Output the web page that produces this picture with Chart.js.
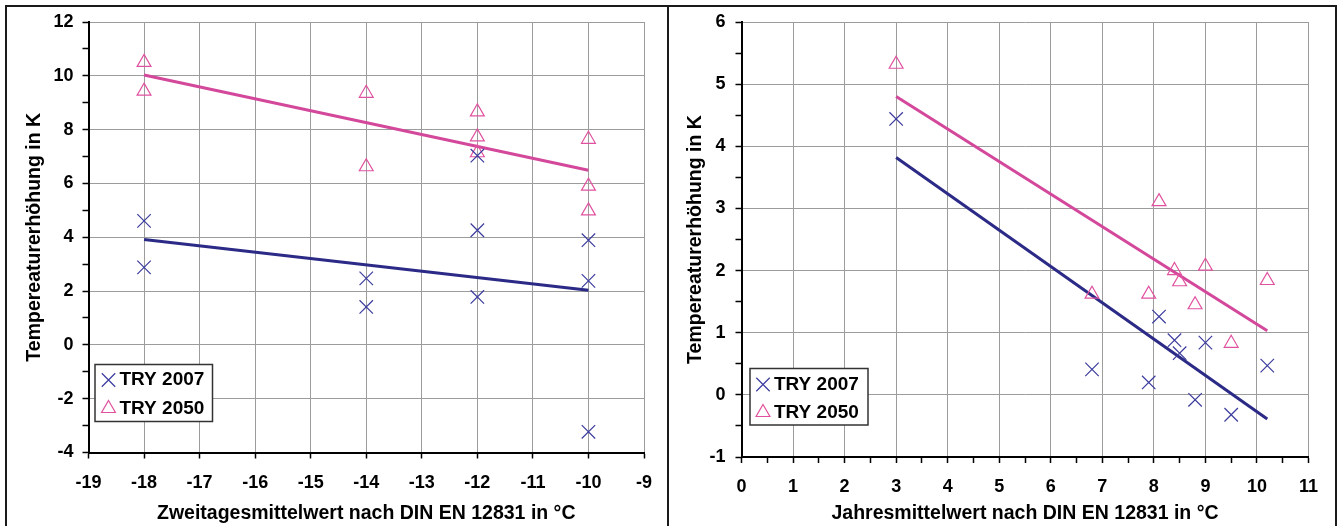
<!DOCTYPE html>
<html>
<head>
<meta charset="utf-8">
<script src="https://cdn.jsdelivr.net/npm/chart.js@4.4.0/dist/chart.umd.min.js"></script>
<style>
  html, body { margin: 0; padding: 0; background: #fff; }
  #page { position: relative; width: 1338px; height: 526px; overflow: hidden; }
  .frame { position: absolute; border: 2px solid #1a1a1a; box-sizing: border-box; }
  canvas { position: absolute; top: 0; }
</style>
</head>
<body>
<div id="page">
  <div class="frame" style="left:5px; top:5px; width:664px; height:560px;"></div>
  <div class="frame" style="left:667px; top:5px; width:670px; height:560px;"></div>
  <canvas id="leftChart" width="668" height="526" style="left:0px;"></canvas>
  <canvas id="rightChart" width="670" height="526" style="left:668px;"></canvas>
</div>
<script>
// Left chart: Zweitagesmittelwert
const leftX = [-18, -18, -14, -14, -12, -12, -12, -10, -10, -10];
const left2007 = [4.61, 2.88, 2.47, 1.41, 7.03, 4.26, 1.78, 3.89, 2.38, -3.23];
const left2050 = [10.50, 9.43, 9.35, 6.62, 8.66, 7.73, 7.14, 7.64, 5.90, 4.98];
const leftTrendX = [-18, -10];
const leftTrend2007 = [3.92, 2.03];
const leftTrend2050 = [10.03, 6.49];

// Right chart: Jahresmittelwert
const rightX = [3, 6.8, 7.9, 8.1, 8.4, 8.5, 8.8, 9.0, 9.5, 10.2];
const right2007 = [4.44, 0.41, 0.20, 1.26, 0.88, 0.67, -0.08, 0.84, -0.32, 0.47];
const right2050 = [5.32, 1.62, 1.62, 3.11, 2.00, 1.82, 1.45, 2.07, 0.83, 1.84];
const rightTrendX = [3, 10.2];
const rightTrend2007 = [3.82, -0.39];
const rightTrend2050 = [4.80, 1.03];

const seriesLabels = ['TRY 2007', 'TRY 2050'];

const navyLine = '#2b2a86';
const navyMark = '#3b3b9e';
const pinkLine = '#d4489c';
const pinkMark = '#e0529f';
const gridGray = '#9c9c9c';
const fontFamily = '"Liberation Sans", Arial, sans-serif';

function pts(xs, ys) {
    return xs.map((x, i) => ({ x: x, y: ys[i] }));
}

function drawMarker(ctx, style, x, y, color) {
    ctx.save();
    ctx.strokeStyle = color;
    ctx.lineWidth = 1.2;
    ctx.beginPath();
    if (style === 'crossRot') {
        const d = 9.5 * Math.SQRT1_2;
        ctx.moveTo(x - d, y - d); ctx.lineTo(x + d, y + d);
        ctx.moveTo(x + d, y - d); ctx.lineTo(x - d, y + d);
    } else {
        const r = 8;
        ctx.moveTo(x, y - r);
        ctx.lineTo(x + r * Math.sin(2 * Math.PI / 3), y + r / 2);
        ctx.lineTo(x - r * Math.sin(2 * Math.PI / 3), y + r / 2);
        ctx.closePath();
    }
    ctx.stroke();
    ctx.restore();
}

// legend box drawn inside the plot area
const boxLegend = {
    id: 'boxLegend',
    afterDraw(chart, args, opts) {
        const ctx = chart.ctx;
        ctx.save();
        ctx.fillStyle = '#fff';
        ctx.fillRect(opts.left, opts.top, opts.width, opts.height);
        ctx.strokeStyle = '#333';
        ctx.lineWidth = 1.5;
        ctx.strokeRect(opts.left, opts.top, opts.width, opts.height);
        ctx.font = 'bold 19px ' + fontFamily;
        ctx.textBaseline = 'middle';
        ctx.textAlign = 'left';
        ctx.fillStyle = '#000';
        const items = chart.data.datasets.filter(ds => ds.label);
        items.forEach((ds, i) => {
            const y = opts.top + opts.firstRow + i * opts.rowGap;
            drawMarker(ctx, ds.pointStyle, opts.left + opts.markerX, y, ds.pointBorderColor);
            ctx.fillText(ds.label, opts.left + opts.textX, y);
        });
        ctx.restore();
    }
};

function markerSets(xs, ys2007, ys2050) {
    return [{
        label: seriesLabels[0],
        data: pts(xs, ys2007),
        pointStyle: 'crossRot',
        pointRadius: 9.5,
        pointBorderWidth: 1.2,
        pointBorderColor: navyMark,
        pointBackgroundColor: 'rgba(0,0,0,0)'
    }, {
        label: seriesLabels[1],
        data: pts(xs, ys2050),
        pointStyle: 'triangle',
        pointRadius: 8,
        pointBorderWidth: 1.2,
        pointBorderColor: pinkMark,
        pointBackgroundColor: 'rgba(0,0,0,0)'
    }];
}

function trendSet(xs, ys, color) {
    return {
        data: pts(xs, ys),
        showLine: true,
        borderColor: color,
        borderWidth: 3,
        pointRadius: 0
    };
}

function axisCfg(min, max, step, isMajor, title, fit, tickPad, titlePad) {
    return {
        type: 'linear',
        min: min,
        max: max,
        afterFit: fit,
        ticks: {
            stepSize: step,
            autoSkip: false,
            maxRotation: 0,
            color: '#000',
            padding: tickPad,
            font: { family: fontFamily, size: 18, weight: 'bold' },
            callback: v => isMajor(v) ? String(v) : ''
        },
        grid: {
            color: ctx => (ctx.tick && isMajor(ctx.tick.value)) ? gridGray : 'rgba(0,0,0,0)',
            lineWidth: 1,
            tickColor: '#000',
            tickLength: 6,
            tickWidth: 1.5
        },
        border: { color: '#000', width: 2 },
        title: {
            display: true,
            text: title,
            color: '#000',
            font: { family: fontFamily, size: 19.5, weight: 'bold' },
            padding: titlePad
        }
    };
}

const yTitle = 'Tempereaturerhöhung in K';

document.addEventListener('DOMContentLoaded', function() {
    const common = {
        responsive: false,
        animation: false,
        events: [],
        plugins: {
            legend: { display: false },
            tooltip: { enabled: false }
        }
    };

    new Chart(document.getElementById('leftChart'), {
        type: 'scatter',
        data: {
            datasets: [
                ...markerSets(leftX, left2007, left2050),
                trendSet(leftTrendX, leftTrend2007, navyLine),
                trendSet(leftTrendX, leftTrend2050, pinkLine)
            ]
        },
        options: {
            ...common,
            layout: { padding: { left: 0, top: 22, right: 24, bottom: 0 } },
            plugins: {
                ...common.plugins,
                boxLegend: { left: 95, top: 364.5, width: 117.5, height: 57, firstRow: 15.5, rowGap: 28.5, markerX: 13.5, textX: 24.5 }
            },
            scales: {
                x: axisCfg(-19, -9, 1, v => true,
                    'Zweitagesmittelwert nach DIN EN 12831 in °C',
                    s => { s.height = 73.5; }, 14, { top: 0, bottom: 1 }),
                y: axisCfg(-4, 12, 1, v => v % 2 === 0,
                    yTitle, s => { s.width = 88.5; }, 9, { top: 22.5, bottom: 0 })
            }
        },
        plugins: [boxLegend]
    });

    new Chart(document.getElementById('rightChart'), {
        type: 'scatter',
        data: {
            datasets: [
                ...markerSets(rightX, right2007, right2050),
                trendSet(rightTrendX, rightTrend2007, navyLine),
                trendSet(rightTrendX, rightTrend2050, pinkLine)
            ]
        },
        options: {
            ...common,
            layout: { padding: { left: 0, top: 22, right: 29.5, bottom: 0 } },
            plugins: {
                ...common.plugins,
                boxLegend: { left: 82, top: 368.5, width: 118, height: 56.5, firstRow: 16, rowGap: 28, markerX: 13, textX: 24 }
            },
            scales: {
                x: axisCfg(0, 11, 0.5, v => Number.isInteger(v),
                    'Jahresmittelwert nach DIN EN 12831 in °C',
                    s => { s.height = 69; }, 13, { top: 0, bottom: 1 }),
                y: axisCfg(-1, 6, 0.5, v => Number.isInteger(v),
                    yTitle, s => { s.width = 73.5; }, 10, { top: 16, bottom: 0 })
            }
        },
        plugins: [boxLegend]
    });
});
</script>
</body>
</html>
